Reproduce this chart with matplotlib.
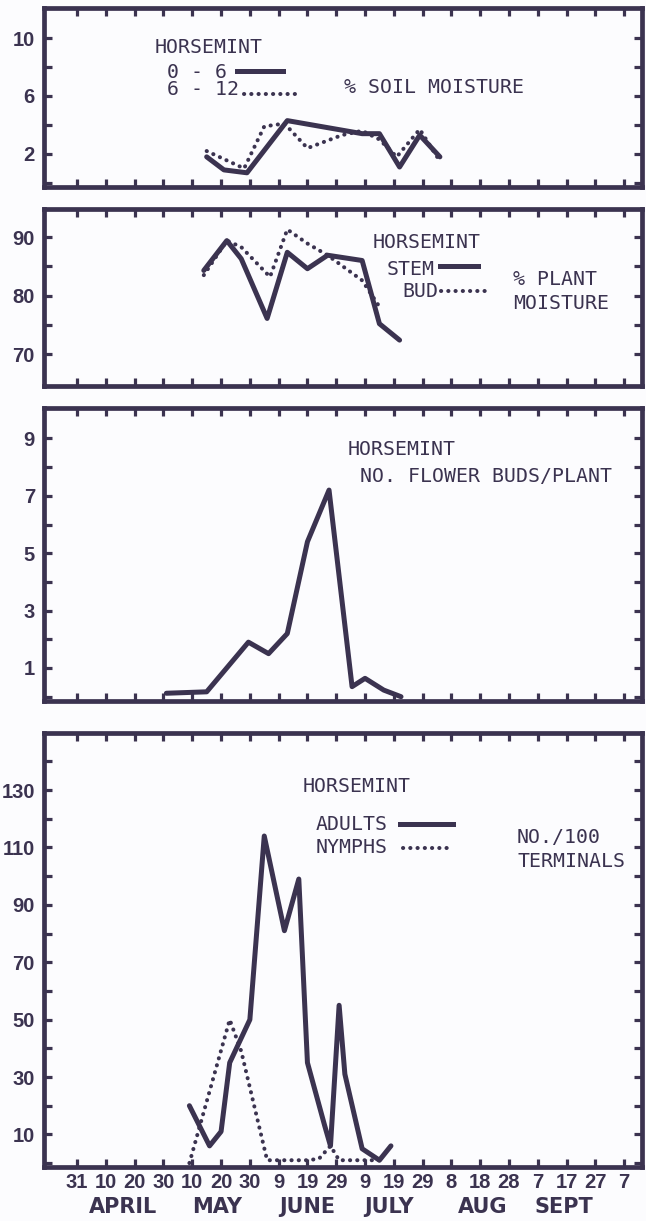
import matplotlib
matplotlib.use("Agg")
import matplotlib.pyplot as plt
import matplotlib.transforms as mtransforms
from matplotlib import font_manager
from matplotlib.lines import Line2D

# ---------------- data (x = days after March 31) ----------------
x_tick_days = list(range(0, 200, 10))
x_tick_labels = ["31", "10", "20", "30", "10", "20", "30", "9", "19", "29",
                 "9", "19", "29", "8", "18", "28", "7", "17", "27", "7"]
month_names = ["APRIL", "MAY", "JUNE", "JULY", "AUG", "SEPT"]
month_centers = [16, 48.5, 80, 108.5, 141, 169]

soil_0_6_days = [45, 51, 59, 73, 99, 105, 112, 119, 126]
soil_0_6_vals = [1.8, 0.9, 0.7, 4.3, 3.4, 3.4, 1.1, 3.3, 1.8]
soil_6_12_days = [45, 58, 65, 72, 80, 92, 99, 105, 111, 119, 126]
soil_6_12_vals = [2.2, 1.0, 3.9, 4.1, 2.4, 3.3, 3.6, 3.0, 1.8, 3.7, 1.5]

stem_days = [44, 52, 57, 66, 73, 80, 87, 99, 105, 112]
stem_vals = [84.3, 89.4, 86.3, 76.1, 87.4, 84.6, 86.9, 86.0, 75.2, 72.4]
bud_days = [44, 52, 57, 67, 73, 80, 87, 99, 105]
bud_vals = [83.5, 89.4, 88.3, 83.2, 91.3, 88.9, 86.9, 82.6, 78.1]

buds_days = [31, 45, 59.5, 66.5, 73, 80, 87.5, 95.5, 100, 106.5, 112.5]
buds_vals = [0.12, 0.17, 1.9, 1.5, 2.2, 5.4, 7.2, 0.35, 0.64, 0.23, 0.0]

adult_days = [39, 46, 50, 53, 60, 65, 72, 77, 80, 86, 88, 91, 93, 99, 105, 109]
adult_vals = [20, 6, 11, 35, 50, 114, 81, 99, 35, 13, 6, 55, 31, 5, 1, 6]
nymph_days = [39, 53, 57, 66, 80, 84, 88, 91, 107]
nymph_vals = [0, 50, 39, 1, 1, 1.5, 6, 1, 1]

p1_ticks = [0, 2, 4, 6, 8, 10]
p1_labels = ["", "2", "", "6", "", "10"]
p2_ticks = [70, 75, 80, 85, 90]
p2_labels = ["70", "", "80", "", "90"]
p3_ticks = list(range(0, 10))
p3_labels = ["", "1", "", "3", "", "5", "", "7", "", "9"]
p4_ticks = list(range(0, 150, 10))
p4_labels = ["" if (v // 10) % 2 == 0 else str(v) for v in p4_ticks]

# ---------------- style ----------------
INK = "#3b3350"
BG = "#fcfcfe"
W, H = 646, 1221

names = {f.name for f in font_manager.fontManager.ttflist}
if "Liberation Sans Narrow" in names:
    NUMFONT, NUMSIZE = "Liberation Sans Narrow", 16
else:
    NUMFONT, NUMSIZE = "Liberation Sans", 14.5
MONO = "DejaVu Sans Mono"
TXTSIZE = 14.3
SOLID_LW = 3.6
DOT_LW = 2.9
DOT_STYLE = (0, (0.05, 1.75))

fig = plt.figure(figsize=(W / 100, H / 100), dpi=100, facecolor=BG)

def px_axes(top, bottom, left=44, right=642):
    return fig.add_axes([left / W, 1 - bottom / H, (right - left) / W, (bottom - top) / H])

def style(ax, ylim, yticks, ylabels, show_x=False):
    ax.set_facecolor(BG)
    ax.set_xlim(-11.5, 196.2)
    ax.set_ylim(*ylim)
    for s in ax.spines.values():
        s.set_linewidth(3.4)
        s.set_color(INK)
    ax.set_xticks(x_tick_days)
    ax.set_yticks(yticks)
    ax.set_yticklabels(ylabels)
    if show_x:
        ax.set_xticklabels(x_tick_labels)
    else:
        ax.set_xticklabels([])
    ax.tick_params(axis="both", direction="in", length=6, width=2.3, color=INK,
                   top=True, right=True, labelcolor=INK)
    ax.tick_params(axis="y", pad=6.5, labelsize=NUMSIZE)
    ax.tick_params(axis="x", pad=4.5, labelsize=NUMSIZE)
    for lbl in ax.get_yticklabels() + ax.get_xticklabels():
        lbl.set_fontfamily(NUMFONT)
        lbl.set_fontweight("bold")

def solid(ax, x, y):
    ax.plot(x, y, color=INK, lw=SOLID_LW, solid_joinstyle="round", solid_capstyle="round")

def dotted(ax, x, y):
    ax.plot(x, y, color=INK, lw=DOT_LW, linestyle=DOT_STYLE, dash_capstyle="round")

def ftext(x, y, s):
    fig.text(x / W, 1 - y / H, s, family=MONO, fontsize=TXTSIZE, color=INK,
             ha="left", va="baseline")

def key(x1, x2, y, dots=False):
    if dots:
        ln = Line2D([x1 / W, x2 / W], [1 - y / H] * 2, transform=fig.transFigure,
                    color=INK, lw=DOT_LW, linestyle=DOT_STYLE, dash_capstyle="round")
    else:
        ln = Line2D([x1 / W, x2 / W], [1 - y / H] * 2, transform=fig.transFigure,
                    color=INK, lw=SOLID_LW)
    fig.add_artist(ln)

# Panel 1: soil moisture
ax1 = px_axes(8, 187)
style(ax1, (-0.28, 12.07), p1_ticks, p1_labels)
solid(ax1, soil_0_6_days, soil_0_6_vals)
dotted(ax1, soil_6_12_days, soil_6_12_vals)
ftext(155, 53, "HORSEMINT")
ftext(167, 78, "0 - 6")
key(237, 283, 71)
ftext(167, 95, "6 - 12")
key(244, 297, 94, dots=True)
ftext(344, 93, "% SOIL MOISTURE")

# Panel 2: plant moisture
ax2 = px_axes(209, 386)
style(ax2, (64.56, 94.8), p2_ticks, p2_labels)
solid(ax2, stem_days, stem_vals)
dotted(ax2, bud_days, bud_vals)
ftext(373, 248, "HORSEMINT")
ftext(387, 275, "STEM")
key(440, 478, 266)
ftext(402, 297, "BUD")
key(441, 486, 291, dots=True)
ftext(513, 285, "% PLANT")
ftext(513, 309, "MOISTURE")

# Panel 3: flower buds
ax3 = px_axes(408, 701)
style(ax3, (-0.15, 10.06), p3_ticks, p3_labels)
solid(ax3, buds_days, buds_vals)
ftext(348, 455, "HORSEMINT")
ftext(360, 482, "NO. FLOWER BUDS/PLANT")

# Panel 4: adults / nymphs
ax4 = px_axes(733, 1167)
style(ax4, (-1.36, 149.9), p4_ticks, p4_labels, show_x=True)
solid(ax4, adult_days, adult_vals)
dotted(ax4, nymph_days, nymph_vals)
ftext(303, 792, "HORSEMINT")
ftext(316, 830, "ADULTS")
key(400, 453, 824)
ftext(316, 853, "NYMPHS")
key(403, 451, 848, dots=True)
ftext(517, 843, "NO./100")
ftext(517, 867, "TERMINALS")

month_tr = mtransforms.blended_transform_factory(ax4.transData, fig.transFigure)
for name, c in zip(month_names, month_centers):
    ax4.text(c, 1 - 1213 / H, name, transform=month_tr, ha="center", va="baseline",
             fontsize=15, fontweight="bold", family="DejaVu Sans", color=INK,
             clip_on=False)

fig.savefig("out.png", dpi=100, facecolor=BG)
